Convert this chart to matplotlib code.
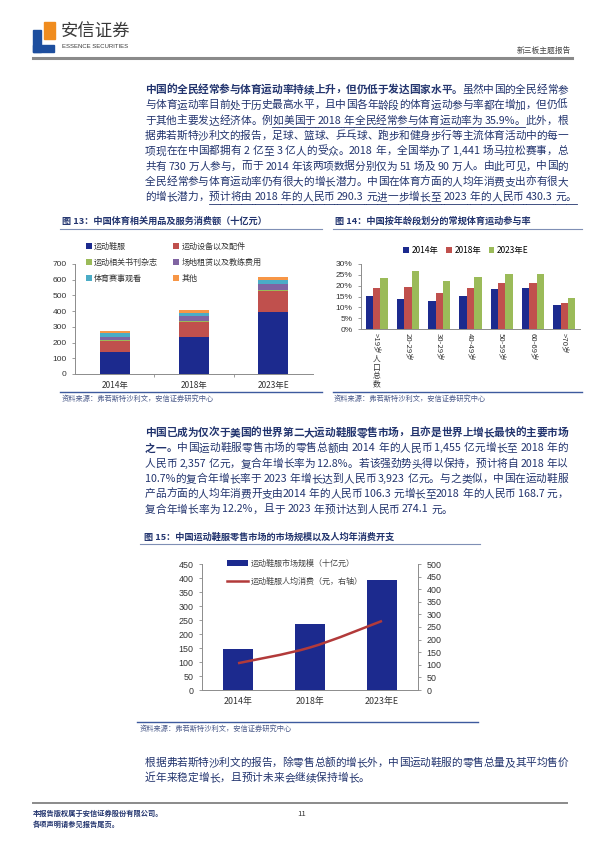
import matplotlib
matplotlib.use("Agg")
import matplotlib.pyplot as plt
from matplotlib.lines import Line2D
from matplotlib.patches import PathPatch, Rectangle
from matplotlib.path import Path
import numpy as np

plt.rcParams["font.family"] = ["Noto Sans CJK SC", "DejaVu Sans"]

W, H = 600, 848
TXT = "#22346e"
NAVY = "#1c2a8e"
RED = "#c0504d"
GREEN = "#9bbb59"
PURPLE = "#8064a2"
TEAL = "#4bacc6"
ORANGE = "#f79646"
TICK = "#333333"
SPINE = "#8c8c8c"

# ---- data: chart 13 (十亿元)
years = ["2014年", "2018年", "2023年E"]
spend_items = ["运动鞋服", "运动设备以及配件", "运动相关书刊杂志",
               "场地租赁以及教练费用", "体育赛事观看", "其他"]
spend_shoes = [142, 235, 393]
spend_equipment = [65, 93, 136]
spend_books = [8, 8, 8]
spend_venue = [22, 30, 36]
spend_events = [25, 25, 25]
spend_other = [13, 15, 17]

# ---- data: chart 14 (%)
age_groups = [">19岁", "20-29岁", "30-29岁", "40-49岁", "50-59岁", "60-69岁", ">70岁"]
part_2014 = [15.2, 14.0, 12.8, 15.2, 18.5, 18.8, 10.9]
part_2018 = [18.8, 19.5, 16.6, 18.8, 21.2, 21.2, 12.2]
part_2023 = [23.7, 26.8, 22.2, 24.0, 25.4, 25.4, 14.3]
part_years = ["2014年", "2018年", "2023年E"]

# ---- data: chart 15
market_size = [145.5, 235.7, 392.3]      # 十亿元
per_capita = [106.3, 168.7, 274.1]       # 元

# ---- page text
para1 = [
    [("中国的全民经常参与体育运动率持续上升，但仍低于发达国家水平。", "b"), ("虽然中国的全民经常参", "n")],
    [("与体育运动率目前处于历史最高水平，且中国各年龄段的体育运动参与率都在增加，但仍低", "n")],
    [("于其他主要发达经济体。例", "n"), ("如美国于 2018 年全民经常参与体育运动率为 35.9%。", "u"), ("此外，根", "n")],
    [("据弗若斯特沙利文的报告，足球、篮球、乒乓球、跑步和健身步行等主流体育活动中的每一", "n")],
    [("项现在在中国都拥有 2 亿至 3 亿人的受众。2018 年，全国举办了 1,441 场马拉松赛事，总", "n")],
    [("共有 730 万人参与，而于 2014 年该两项数据分别仅为 51 场及 90 万人。由此可见，中国的", "n")],
    [("全民经常参与体育运动率仍有很大的增长潜力。中国在体育方面的人均年消费支出亦有很大", "n")],
    [("的增长潜力，", "n"), ("预计将由 2018 年的人民币 290.3 元进一步增长至 2023 年的人民币 430.3 元。", "u")],
]
para2 = [
    [("中国已成为仅次于美国的世界第二大运动鞋服零售市场，且亦是世界上增长最快的主要市场", "b")],
    [("之一。", "b"), ("中国运动鞋服零售市场的零售总额由 2014 年的人民币 1,455 亿元增长至 2018 年的", "n")],
    [("人民币 2,357 亿元，复合年增长率为 12.8%。若该强劲势头得以保持，预计将自 2018 年以", "n")],
    [("10.7%的复合年增长率于 2023 年增长达到人民币 3,923 亿元。与之类似，中国在运动鞋服", "n")],
    [("产品方面的人均年消费开支由2014 年的人民币 106.3 元增长至2018 年的人民币 168.7 元，", "n")],
    [("复合年增长率为 12.2%，且于 2023 年预计达到人民币 274.1 元。", "n")],
]
para3 = [
    [("根据弗若斯特沙利文的报告，除零售总额的增长外，中国运动鞋服的零售总量及其平均售价", "n")],
    [("近年来稳定增长，且预计未来会继续保持增长。", "n")],
]
source = "资料来源：弗若斯特沙利文，安信证券研究中心"

fig = plt.figure(figsize=(W / 100, H / 100), dpi=100)
renderer = fig.canvas.get_renderer()


def fx(x):
    return x / W


def fy(y):
    return 1 - y / H


def hline(x0, x1, y, color, lw):
    fig.add_artist(Line2D([fx(x0), fx(x1)], [fy(y), fy(y)], color=color, lw=lw))


def put(x, y, s, **kw):
    kw.setdefault("va", "center")
    return fig.text(fx(x), fy(y), s, **kw)


_cache = {}


def width(tok, weight, size):
    if ord(tok[0]) > 127:
        return size * 100 / 72
    key = (tok, weight, size)
    if key not in _cache:
        t = fig.text(0, 0, tok, fontsize=size, fontweight=weight)
        _cache[key] = t.get_window_extent(renderer).width
        t.remove()
    return _cache[key]


def tokens(s):
    out, buf = [], ""
    for ch in s:
        if ch == " " or ord(ch) > 127:
            if buf:
                out.append(buf)
                buf = ""
            out.append(ch)
        else:
            buf += ch
    if buf:
        out.append(buf)
    return out


def draw_para(lines, y0, dy, x0=145, x1=568, size=7.7):
    # justified lines, last line left-aligned
    for i, segs in enumerate(lines):
        y = y0 + i * dy
        toks = []
        for text, kind in segs:
            weight = "bold" if kind == "b" else "normal"
            for t in tokens(text):
                w = 2.6 if t == " " else width(t, weight, size)
                toks.append((t, kind, weight, w))
        total = sum(t[3] for t in toks)
        gap = 0
        if i < len(lines) - 1:
            gap = (x1 - x0 - total) / (len(toks) - 1)
        x = x0
        for t, kind, weight, w in toks:
            if t != " ":
                put(x, y, t, fontsize=size, fontweight=weight, color=TXT, ha="left")
            if kind == "u":
                hline(x, x + w + gap, y + 6.5, TXT, 0.6)
            x += w + gap


# ---- header
fig.add_artist(Rectangle((fx(33), fy(52)), 8 / W, 22 / H, color="#1d4e9e"))
fig.add_artist(Rectangle((fx(33), fy(52)), 21 / W, 7 / H, color="#1d4e9e"))
fig.add_artist(Rectangle((fx(44), fy(39)), 11 / W, 17 / H, color="#f08c1e"))
put(61, 32, "安信证券", fontsize=12.5, color="#3a3a3a", ha="left")
put(62, 47, "ESSENCE SECURITIES", fontsize=4.3, color="#3a3a3a", ha="left",
    family="Liberation Sans")
put(571, 51, "新三板主题报告", fontsize=5.6, color="#444444", ha="right")
hline(33, 572, 57.5, "#8a8a8a", 2.2)

# ---- paragraphs
draw_para(para1, 90, 15.3)
draw_para(para2, 433, 15.3)
draw_para(para3, 763, 15.0)

# ---- figure titles
put(62, 221, "图 13：中国体育相关用品及服务消费额（十亿元）", fontsize=6.6,
    fontweight="bold", color=TXT, ha="left")
hline(60, 322, 229, "#7f8fb5", 0.8)
put(335, 221, "图 14：中国按年龄段划分的常规体育运动参与率", fontsize=6.6,
    fontweight="bold", color=TXT, ha="left")
hline(333, 582, 229, "#7f8fb5", 0.8)
put(144, 537, "图 15：中国运动鞋服零售市场的市场规模以及人均年消费开支", fontsize=6.6,
    fontweight="bold", color=TXT, ha="left")
hline(140, 480, 544, "#7f8fb5", 0.8)


def style_axes(ax):
    for s in ["top", "right"]:
        ax.spines[s].set_visible(False)
    for s in ["left", "bottom"]:
        ax.spines[s].set_color(SPINE)
        ax.spines[s].set_linewidth(0.7)
    ax.tick_params(colors=SPINE, labelcolor=TICK, width=0.6, length=2.5,
                   labelsize=6)
    for lab in ax.get_yticklabels():
        lab.set_family("Liberation Sans")


# ---- chart 13: stacked bars
ax1 = fig.add_axes([fx(75), fy(374), 238 / W, 110 / H])
x = np.arange(len(years))
series13 = [spend_shoes, spend_equipment, spend_books, spend_venue, spend_events, spend_other]
colors13 = [NAVY, RED, GREEN, PURPLE, TEAL, ORANGE]
bottom = np.zeros(len(years))
handles = []
for vals, c, name in zip(series13, colors13, spend_items):
    h = ax1.bar(x, vals, 0.38, bottom=bottom, color=c, label=name)
    handles.append(h)
    bottom += np.array(vals)
ax1.set_xlim(-0.5, 2.5)
ax1.set_ylim(0, 700)
ax1.set_yticks(range(0, 701, 100))
ax1.set_xticks(x)
ax1.set_xticklabels(years)
ax1.set_xticks([0.5, 1.5], minor=True)
style_axes(ax1)
ax1.tick_params(axis="x", which="major", length=0, pad=5)
ax1.tick_params(axis="x", which="minor", length=2, color=SPINE)
order = [0, 2, 4, 1, 3, 5]
fig.legend([handles[i] for i in order], [spend_items[i] for i in order],
           ncol=2, loc="upper left", bbox_to_anchor=(fx(86), fy(242)),
           frameon=False, fontsize=5.8, handlelength=0.7, handleheight=0.7,
           handletextpad=0.3, labelspacing=0.85, columnspacing=1.9,
           borderaxespad=0, borderpad=0, labelcolor="#333333")
hline(60, 322, 392, "#3d5a9e", 1.0)
put(62, 399, source, fontsize=5.2, color="#4a5a8a", ha="left", style="italic")

# ---- chart 14: grouped bars
ax2 = fig.add_axes([fx(361), fy(329), 219 / W, 65 / H])
xa = np.arange(len(age_groups))
bw = 0.235
for k, (vals, c, name) in enumerate(zip([part_2014, part_2018, part_2023],
                                        [NAVY, RED, GREEN], part_years)):
    ax2.bar(xa + (k - 1) * bw, vals, bw, color=c, label=name)
ax2.set_xlim(-0.5, len(age_groups) - 0.5)
ax2.set_ylim(0, 30)
ax2.set_yticks(range(0, 31, 5))
ax2.set_yticklabels([f"{v}%" for v in range(0, 31, 5)])
ax2.set_xticks(xa)
ax2.set_xticklabels(age_groups, rotation=270, va="top", ha="center", fontsize=5.6)
style_axes(ax2)
ax2.tick_params(axis="x", length=0, pad=3, labelsize=5.6)
ax2.annotate("人\n口\n总\n数", xy=(0, H - 356), xycoords=("data", "figure pixels"),
             ha="center", va="top", fontsize=5.6, color=TICK, linespacing=1.0)
ax2.legend(ncol=3, loc="center", bbox_to_anchor=(fx(466), fy(250)),
           bbox_transform=fig.transFigure, frameon=False, fontsize=6,
           handlelength=0.7, handleheight=0.7, handletextpad=0.3,
           columnspacing=0.9, borderpad=0)
hline(333, 582, 392, "#3d5a9e", 1.0)
put(334, 399, source, fontsize=5.2, color="#4a5a8a", ha="left", style="italic")

# ---- chart 15: bars + smoothed line on secondary axis
ax3 = fig.add_axes([fx(202), fy(690), 216 / W, 126 / H])
xb = np.arange(len(years))
b = ax3.bar(xb, market_size, 0.42, color=NAVY, label="运动鞋服市场规模（十亿元）")
ax3.set_xlim(-0.5, 2.5)
ax3.set_ylim(0, 450)
ax3.set_yticks(range(0, 451, 50))
ax3.set_xticks(xb)
ax3.set_xticklabels(years)
style_axes(ax3)
ax3.tick_params(axis="x", length=0, pad=5, labelsize=6.4)
ax3.tick_params(axis="y", labelsize=6.4)
ax4 = ax3.twinx()
ax4.set_xlim(-0.5, 2.5)
ax4.set_ylim(0, 500)
ax4.set_yticks(range(0, 501, 50))

# Excel-style smoothing: cubic Bezier through the data points
pts = np.column_stack([xb, per_capita]).astype(float)
ext = np.vstack([pts[:1], pts, pts[-1:]])
verts, codes = [pts[0]], [Path.MOVETO]
for i in range(len(pts) - 1):
    c1 = pts[i] + (ext[i + 2] - ext[i]) / 6
    c2 = pts[i + 1] - (ext[i + 3] - ext[i + 1]) / 6
    verts += [c1, c2, pts[i + 1]]
    codes += [Path.CURVE4] * 3
ax4.add_patch(PathPatch(Path(verts, codes), fill=False, edgecolor="#b23a3a", lw=1.8))
ln = Line2D([], [], color="#b23a3a", lw=1.8, label="运动鞋服人均消费（元，右轴）")

for s in ["top", "left", "bottom"]:
    ax4.spines[s].set_visible(False)
ax4.spines["right"].set_color(SPINE)
ax4.spines["right"].set_linewidth(0.7)
ax4.tick_params(colors=SPINE, labelcolor=TICK, width=0.6, length=2.5, labelsize=6.4)
for lab in ax4.get_yticklabels():
    lab.set_family("Liberation Sans")
ax4.legend([b, ln], [b.get_label(), ln.get_label()], loc="upper left",
           bbox_to_anchor=(fx(223), fy(555)), bbox_transform=fig.transFigure,
           frameon=False, fontsize=5.8, handlelength=2.6, handleheight=0.8,
           handletextpad=0.4, labelspacing=1.1, borderpad=0,
           labelcolor="#444444")
hline(137, 478, 722, "#3d5a9e", 1.0)
put(140, 729, source, fontsize=5.2, color="#4a5a8a", ha="left", style="italic")

# ---- footer
hline(33, 567, 803, "#8a8a8a", 1.4)
put(33, 813, "本报告版权属于安信证券股份有限公司。", fontsize=5.2, fontweight="bold",
    color=TXT, ha="left")
put(33, 824, "各项声明请参见报告尾页。", fontsize=5.2, fontweight="bold", color=TXT, ha="left")
put(302, 814, "11", fontsize=5.6, color="#333333", ha="center")

fig.savefig("out.png", dpi=100)
